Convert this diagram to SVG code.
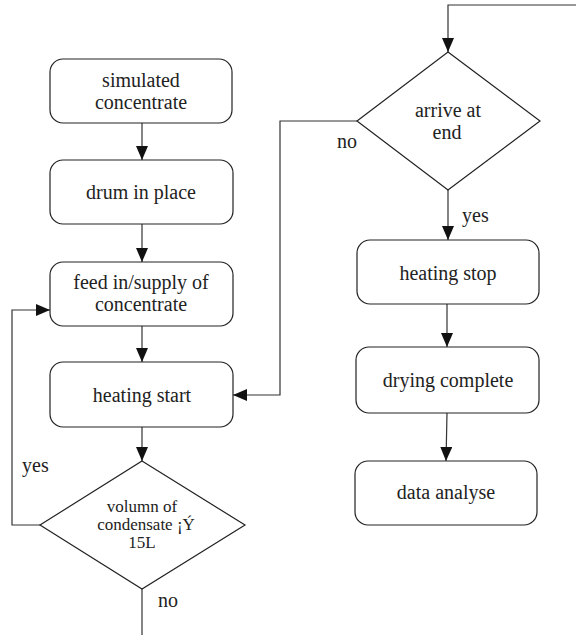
<svg xmlns="http://www.w3.org/2000/svg" width="576" height="635" viewBox="0 0 576 635">
<defs>
<marker id="ah" markerWidth="14" markerHeight="12" refX="14" refY="6" orient="auto" markerUnits="userSpaceOnUse">
<path d="M0,0 L14,6 L0,12 Z" fill="#111"/>
</marker>
<style>
.box{fill:#fff;stroke:#222;stroke-width:1.2}
text{font-family:'Liberation Serif','Tinos','Times New Roman','DejaVu Serif',serif;fill:#222}
.t{font-size:20px;text-anchor:middle}
.ts{font-size:17px;text-anchor:middle}
.lb{font-size:20px}
.c{fill:none;stroke:#333;stroke-width:1.2}
</style>
</defs>
<rect width="576" height="635" fill="#fff"/>
<g id="connectors">
<path class="c" d="M142,123 V160" marker-end="url(#ah)"/>
<path class="c" d="M142,224 V262" marker-end="url(#ah)"/>
<path class="c" d="M142,326 V362" marker-end="url(#ah)"/>
<path class="c" d="M142,427 V461" marker-end="url(#ah)"/>
<path class="c" d="M40,525 H12 V310 H50" marker-end="url(#ah)"/>
<path class="c" d="M142,589 V635"/>
<path class="c" d="M576,5 H448 V52" marker-end="url(#ah)"/>
<path class="c" d="M357,121 H280 V395 H233" marker-end="url(#ah)"/>
<path class="c" d="M448,190 V240" marker-end="url(#ah)"/>
<path class="c" d="M447,304 V347" marker-end="url(#ah)"/>
<path class="c" d="M447,413 L446,461" marker-end="url(#ah)"/>
<text class="lb" x="22" y="472">yes</text>
<text class="lb" x="158" y="607">no</text>
<text class="lb" x="337" y="148">no</text>
<text class="lb" x="462" y="222">yes</text>
</g>
<g id="n1">
<rect class="box" x="50" y="59" width="182" height="64" rx="13"/>
<text class="t" x="141" y="87">simulated</text>
<text class="t" x="141" y="109">concentrate</text>
</g>
<g id="n2">
<rect class="box" x="50" y="160" width="183" height="64" rx="13"/>
<text class="t" x="141" y="199">drum in place</text>
</g>
<g id="n3">
<rect class="box" x="50" y="262" width="183" height="64" rx="13"/>
<text class="t" x="141" y="289">feed in/supply of</text>
<text class="t" x="141" y="311">concentrate</text>
</g>
<g id="n4">
<rect class="box" x="50" y="362" width="183" height="65" rx="13"/>
<text class="t" x="142" y="402">heating start</text>
</g>
<g id="n5">
<polygon class="box" points="142,461 245,525 142,589 40,525"/>
<text class="ts" x="142" y="512">volumn of</text>
<text class="ts" x="146" y="530">condensate ¡Ý</text>
<text class="ts" x="142" y="548">15L</text>
</g>
<g id="n6">
<polygon class="box" points="448,52 540,121 448,190 357,121"/>
<text class="t" x="448" y="117">arrive at</text>
<text class="t" x="447" y="139">end</text>
</g>
<g id="n7">
<rect class="box" x="357" y="240" width="182" height="64" rx="13"/>
<text class="t" x="448" y="280">heating stop</text>
</g>
<g id="n8">
<rect class="box" x="356" y="347" width="183" height="66" rx="13"/>
<text class="t" x="448" y="387">drying complete</text>
</g>
<g id="n9">
<rect class="box" x="355" y="461" width="182" height="64" rx="13"/>
<text class="t" x="446" y="499">data analyse</text>
</g>
</svg>
